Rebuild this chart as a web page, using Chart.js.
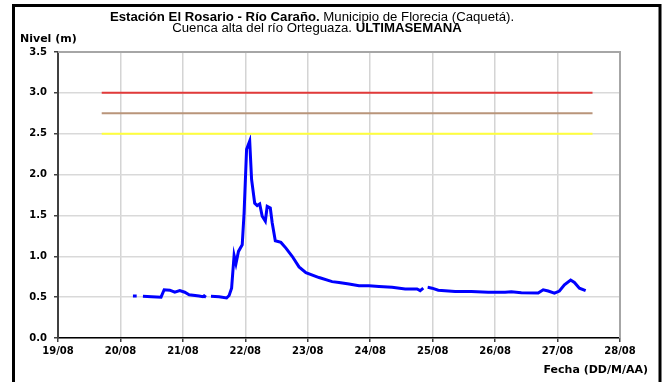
<!DOCTYPE html>
<html>
<head>
<meta charset="utf-8">
<script src="https://cdn.jsdelivr.net/npm/chart.js@4"></script>
<style>
  body { margin: 0; background: #fff; }
</style>
</head>
<body>
<canvas id="nivelChart" width="663" height="382"></canvas>
<script>
// Estación El Rosario - Río Caraño, last week levels
// x = day of August (decimal), null = gap in record
const xLabels = ['19/08', '20/08', '21/08', '22/08', '23/08', '24/08', '25/08', '26/08', '27/08', '28/08'];
const yTicks = [0, 0.5, 1.0, 1.5, 2.0, 2.5, 3.0, 3.5];

const days = [
  20.20, 20.26, 20.30,
  20.36, 20.50, 20.65, 20.70, 20.79, 20.87, 20.95, 21.03, 21.10, 21.26, 21.32, 21.34, 21.37, 21.41,
  21.45, 21.58, 21.70, 21.74, 21.78, 21.82, 21.85, 21.89, 21.95, 21.98, 22.02, 22.07, 22.10, 22.15,
  22.19, 22.23, 22.27, 22.32, 22.35, 22.40, 22.43, 22.48, 22.57, 22.65, 22.75, 22.86, 22.97, 23.18,
  23.39, 23.50, 23.66, 23.82, 23.98, 24.14, 24.35, 24.56, 24.75, 24.80, 24.85, 24.88,
  24.92, 24.99, 25.09, 25.36, 25.62, 25.89, 26.16, 26.26, 26.42, 26.69, 26.77, 26.85, 26.95, 27.03,
  27.11, 27.21, 27.27, 27.35, 27.45
];
const nivel = [
  0.515, 0.515, null,
  0.51, 0.505, 0.50, 0.59, 0.585, 0.56, 0.58, 0.56, 0.53, 0.515, 0.505, 0.515, 0.50, null,
  0.51, 0.505, 0.49, 0.52, 0.61, 1.01, 0.91, 1.06, 1.14, 1.53, 2.31, 2.41, 1.94, 1.65,
  1.62, 1.64, 1.49, 1.43, 1.61, 1.59, 1.41, 1.19, 1.17, 1.10, 1.00, 0.87, 0.80, 0.74,
  0.69, 0.68, 0.66, 0.64, 0.64, 0.63, 0.62, 0.60, 0.60, 0.58, 0.61, null,
  0.62, 0.61, 0.585, 0.57, 0.57, 0.56, 0.56, 0.565, 0.555, 0.55, 0.59, 0.575, 0.55, 0.575,
  0.65, 0.71, 0.68, 0.61, 0.58
];

// alert thresholds
const umbralX = [19.70, 27.56];
const umbralRojo = 3.0;
const umbralNaranja = 2.75;
const umbralAmarillo = 2.5;

const serie = days.map((d, i) => ({ x: d, y: nivel[i] }));
const umbral = v => umbralX.map(x => ({ x, y: v }));

const tickFont = { family: 'DejaVu Sans', size: 10, weight: 'bold' };

// title, axis names, plot frame and outer frame
const decor = {
  id: 'decor',
  beforeDatasetsDraw(chart) {
    const { ctx, chartArea: a } = chart;
    ctx.save();
    ctx.strokeStyle = '#a6a6a6';
    ctx.lineWidth = 2;
    ctx.beginPath();
    ctx.moveTo(a.left, a.top);
    ctx.lineTo(a.right, a.top);
    ctx.lineTo(a.right, a.bottom);
    ctx.stroke();
    ctx.restore();
  },
  afterDraw(chart) {
    const { ctx } = chart;
    ctx.save();
    ctx.fillStyle = '#000';
    ctx.textBaseline = 'alphabetic';

    // title text is a bit wider than plain Arial, stretch it sideways
    const sx = 1.1;
    const line = (parts, cx, y) => {
      let w = 0;
      parts.forEach(p => { ctx.font = p[1]; w += ctx.measureText(p[0]).width; });
      let x = (cx - w * sx / 2) / sx;
      ctx.save();
      ctx.scale(sx, 1);
      ctx.textAlign = 'left';
      parts.forEach(p => { ctx.font = p[1]; ctx.fillText(p[0], x, y); x += ctx.measureText(p[0]).width; });
      ctx.restore();
    };
    const b = 'bold 12px "Liberation Sans", Arial, sans-serif';
    const n = '12px "Liberation Sans", Arial, sans-serif';
    line([['Estación El Rosario - Río Caraño.', b], [' Municipio de Florecia (Caquetá).', n]], 312, 21);
    line([['Cuenca alta del río Orteguaza. ', n], ['ULTIMASEMANA', b]], 317, 32);

    ctx.font = 'bold 11px "DejaVu Sans", sans-serif';
    ctx.textAlign = 'left';
    ctx.fillText('Nivel (m)', 20, 42);
    ctx.textAlign = 'right';
    ctx.fillText('Fecha (DD/M/AA)', 648, 373);

    ctx.strokeStyle = '#000';
    ctx.lineWidth = 3;
    ctx.strokeRect(13.5, 5.5, 646.5, 400);
    ctx.restore();
  }
};

new Chart(document.getElementById('nivelChart'), {
  type: 'line',
  data: {
    datasets: [
      { data: umbral(umbralRojo), borderColor: '#e23a3a', borderWidth: 2, pointRadius: 0 },
      { data: umbral(umbralNaranja), borderColor: '#b9957a', borderWidth: 2, pointRadius: 0 },
      { data: umbral(umbralAmarillo), borderColor: '#ffff3c', borderWidth: 2, pointRadius: 0 },
      { data: serie, borderColor: '#0000ff', borderWidth: 3, pointRadius: 0, tension: 0, spanGaps: false }
    ]
  },
  options: {
    responsive: false,
    animation: false,
    layout: { padding: { top: 52, right: 43, left: 0, bottom: 0 } },
    plugins: { legend: { display: false }, tooltip: { enabled: false } },
    scales: {
      x: {
        type: 'linear',
        min: 19,
        max: 28,
        afterFit: s => { s.height = 44; },
        afterBuildTicks: s => { s.ticks = xLabels.map((l, i) => ({ value: 19 + i })); },
        ticks: {
          color: '#000',
          font: tickFont,
          padding: 3,
          maxRotation: 0,
          autoSkip: false,
          callback: v => xLabels[Math.round(v - 19)]
        },
        grid: { color: '#d4d4d4', lineWidth: 1.5, tickLength: 4, tickColor: '#404040' },
        border: { color: '#000', width: 1.5 }
      },
      y: {
        min: 0,
        max: 3.5,
        afterFit: s => { s.width = 58; },
        afterBuildTicks: s => { s.ticks = yTicks.map(v => ({ value: v })); },
        ticks: {
          color: '#000',
          font: tickFont,
          padding: 7,
          callback: v => v.toFixed(1)
        },
        grid: { color: '#d9d9d9', lineWidth: 1.5, tickLength: 4, tickColor: '#404040' },
        border: { color: '#404040', width: 2 }
      }
    }
  },
  plugins: [decor]
});
</script>
</body>
</html>
